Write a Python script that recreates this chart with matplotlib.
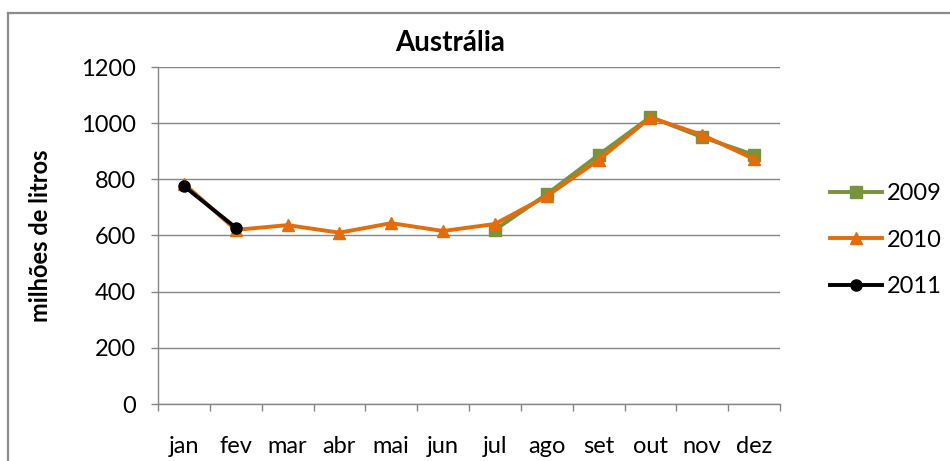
import matplotlib.pyplot as plt
import numpy as np
from matplotlib.lines import Line2D

plt.rcParams['font.family'] = ['Lato', 'DejaVu Sans']

meses = ['jan', 'fev', 'mar', 'abr', 'mai', 'jun', 'jul', 'ago', 'set', 'out', 'nov', 'dez']
v2009 = [np.nan, np.nan, np.nan, np.nan, np.nan, np.nan, 620, 747, 887, 1022, 950, 887]
v2010 = [785, 620, 637, 610, 644, 616, 641, 740, 869, 1020, 958, 872]
v2011 = [776, 628]

W, H = 950, 461
fig = plt.figure(figsize=(W / 100, H / 100), dpi=100)
ax = fig.add_axes([158 / W, 1 - 404 / H, (780 - 158) / W, (404 - 67) / H])

x = np.arange(len(meses))
ax.plot(x, v2009, color='#77933C', lw=2.8, marker='s', ms=8, label='2009', zorder=3)
ax.plot(x, v2010, color='#E46C0A', lw=2.8, marker='^', ms=8, label='2010', zorder=4)
ax.plot(x[:len(v2011)], v2011, color='black', lw=2.8, marker='o', ms=8, label='2011', zorder=5)

# eixos
ax.set_xlim(-0.5, len(meses) - 0.5)
ax.set_ylim(0, 1200)
ax.set_yticks(np.arange(0, 1201, 200))
ax.set_xticks(x)
ax.set_xticklabels(meses, fontsize=17)
ax.set_xticks(np.arange(-0.5, len(meses), 1), minor=True)
ax.tick_params(axis='x', which='major', length=0, pad=23)
ax.tick_params(axis='x', which='minor', length=5, color='#868686', width=1)
ax.tick_params(axis='y', length=5, color='#868686', width=1, labelsize=17, pad=11)

ax.set_axisbelow(True)
ax.yaxis.grid(color='#868686', lw=1)
for s in ['top', 'right']:
    ax.spines[s].set_visible(False)
for s in ['left', 'bottom']:
    ax.spines[s].set_color('#868686')
    ax.spines[s].set_linewidth(1)

ax.set_ylabel('milhões de litros', fontsize=17, fontweight='bold')
ax.yaxis.set_label_coords((52 - 158) / (780 - 158), 0.5)
fig.text(450 / W, 1 - 43 / H, 'Austrália', fontsize=20, fontweight='bold',
         ha='center', va='center')

handles = [
    Line2D([], [], color='#77933C', lw=2.8, marker='s', ms=8),
    Line2D([], [], color='#E46C0A', lw=2.8, marker='^', ms=8),
    Line2D([], [], color='black', lw=2.8, marker='o', ms=8),
]
fig.legend(handles, ['2009', '2010', '2011'], loc='center left',
           bbox_to_anchor=(830 / W, 1 - 240 / H), frameon=False, fontsize=17,
           handlelength=2.2, handletextpad=0.2, labelspacing=1.08, borderpad=0,
           borderaxespad=0)

# moldura (apenas topo e esquerda visiveis)
fig.add_artist(Line2D([8 / W, 1], [1 - 13 / H, 1 - 13 / H], color='#8c8c8c', lw=1.6))
fig.add_artist(Line2D([8 / W, 8 / W], [0, 1 - 13 / H], color='#8c8c8c', lw=1.6))

fig.savefig('out.png', dpi=100, facecolor='white')
